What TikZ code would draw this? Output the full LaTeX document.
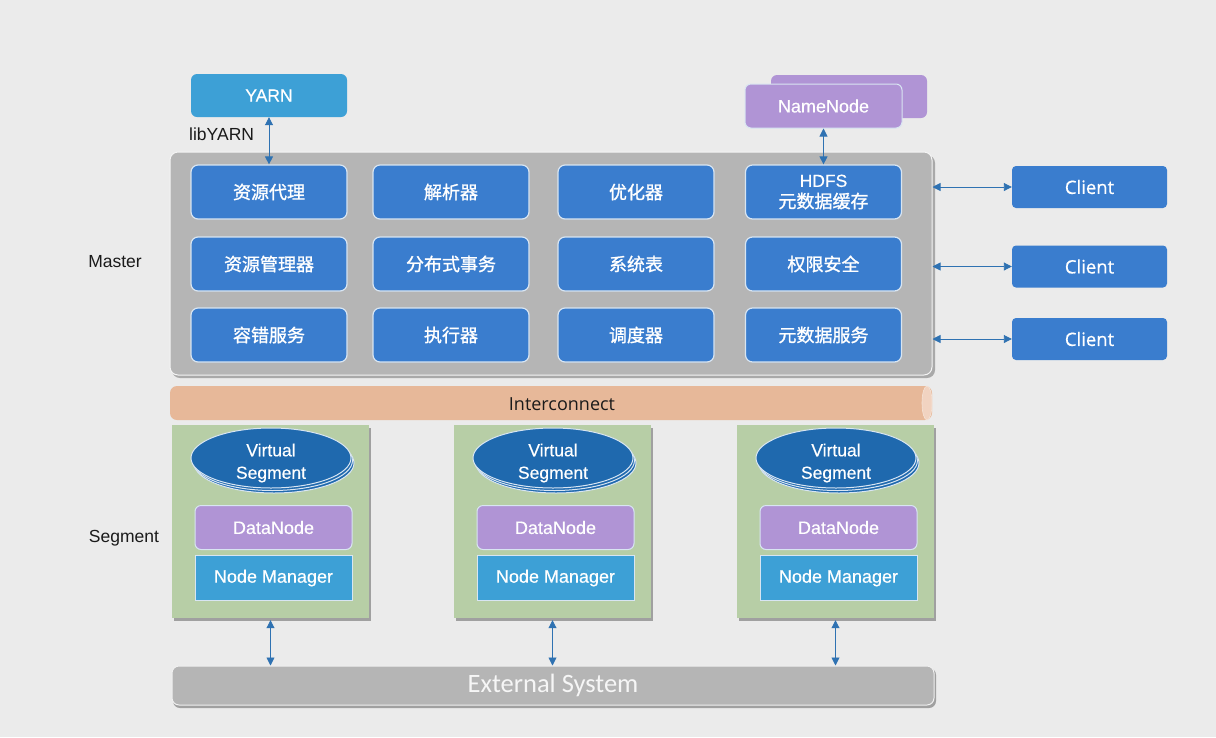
\documentclass[tikz,border=0pt]{standalone}
\usepackage{fontspec}
\setmainfont{Liberation Sans}
\newfontfamily\cjk{Noto Sans CJK SC}[FakeBold=1.2]
\newfontfamily\arialw{Liberation Sans}[FakeBold=0.4]
\newfontfamily\opensans{Open Sans}
\newfontfamily\opensansw{Open Sans}[FakeBold=0.6]
\newfontfamily\carlito{Carlito}
\usetikzlibrary{arrows.meta,shapes.geometric}
\definecolor{bg}{HTML}{EBEBEB}
\definecolor{mgray}{HTML}{B5B5B5}
\definecolor{bblue}{HTML}{3A7DCE}
\definecolor{lblue}{HTML}{3DA0D6}
\definecolor{purp}{HTML}{B094D5}
\definecolor{sgreen}{HTML}{B7CEA6}
\definecolor{salmon}{HTML}{E7B899}
\definecolor{salmonl}{HTML}{F1D3C1}
\definecolor{arrowc}{HTML}{2F72B2}
\definecolor{vsblue}{HTML}{1F69AE}
\definecolor{edgec}{HTML}{D8E5F2}
\definecolor{txt}{HTML}{1A1A1A}
\definecolor{shad}{HTML}{8E8E8E}
\tikzset{
  bluebox/.style={draw=edgec, line width=1.2pt, fill=bblue, rounded corners=7pt,
    minimum width=156pt, minimum height=54pt, text=white, inner sep=0pt,
    font=\cjk\fontsize{18}{22}\selectfont, align=center},
  clientbox/.style={fill=bblue, rounded corners=4pt, minimum width=155pt,
    minimum height=42pt, text=white, inner sep=0pt, font=\opensansw\fontsize{18.5}{22}\selectfont},
  purpbox/.style={draw=edgec, line width=1pt, fill=purp, rounded corners=6pt,
    minimum width=157pt, minimum height=44pt, text=white, inner sep=0pt,
    font=\arialw\fontsize{18}{21}\selectfont},
  nmbox/.style={draw=edgec, line width=1pt, fill=lblue, minimum width=157pt,
    minimum height=45pt, text=white, inner sep=0pt, font=\arialw\fontsize{18}{21}\selectfont},
  yarnbox/.style={fill=lblue, rounded corners=6pt, minimum width=156pt,
    minimum height=43pt, text=white, inner sep=0pt, font=\arialw\fontsize{17.5}{21}\selectfont},
  segbox/.style={fill=sgreen, minimum width=197pt, minimum height=193pt, inner sep=0pt},
  label/.style={text=txt, font=\fontsize{17.5}{21}\selectfont, inner sep=0pt},
  arr/.style={{Triangle[length=8pt,width=8pt]}-{Triangle[length=8pt,width=8pt]},
    draw=arrowc, line width=0.9pt},
}
\begin{document}
\begin{tikzpicture}[x=1pt,y=-1pt]
\fill[bg] (0,0) rectangle (1216,737);
\useasboundingbox (0,0) rectangle (1216,737);

% ---------- Master ----------
\fill[shad, opacity=0.7, rounded corners=8pt] (172,155) rectangle (935,378);
\node[fill=mgray, draw=white!85!mgray, line width=1pt, rounded corners=8pt,
  minimum width=762pt, minimum height=223pt, inner sep=0pt] (master) at (551,263.5) {};

\node[bluebox] (r11) at (269,192) {资源代理};
\node[bluebox] (r12) at (451,192) {解析器};
\node[bluebox] (r13) at (636,192) {优化器};
\node[bluebox] (r14) at (823.5,192) {{\arialw\fontsize{17.5}{22}\selectfont HDFS}\\[-1pt]元数据缓存};
\node[bluebox] (r21) at (269,264) {资源管理器};
\node[bluebox] (r22) at (451,264) {分布式事务};
\node[bluebox] (r23) at (636,264) {系统表};
\node[bluebox] (r24) at (823.5,264) {权限安全};
\node[bluebox] (r31) at (269,335) {容错服务};
\node[bluebox] (r32) at (451,335) {执行器};
\node[bluebox] (r33) at (636,335) {调度器};
\node[bluebox] (r34) at (823.5,335) {元数据服务};

\node[label] (mlabel) at (115,262) {Master};

% ---------- YARN ----------
\node[yarnbox] (yarn) at (269,95.5) {YARN};
\node[label, anchor=west] (libyarn) at (189,134) {libYARN};
\draw[arr] (yarn.south) -- (r11.north);

% ---------- NameNode ----------
\node[fill=purp, rounded corners=6pt, minimum width=156pt, minimum height=43pt] (nnback) at (849,96.5) {};
\node[purpbox] (nn) at (823.5,106) {NameNode};
\draw[arr] (nn.south) -- (r14.north);

% ---------- Clients ----------
\node[clientbox] (c1) at (1089.5,187) {Client};
\node[clientbox] (c2) at (1089.5,266.5) {Client};
\node[clientbox] (c3) at (1089.5,339) {Client};
\draw[arr] (master.east |- c1) -- (c1.west);
\draw[arr] (master.east |- c2) -- (c2.west);
\draw[arr] (master.east |- c3) -- (c3.west);

% ---------- Interconnect ----------
\fill[salmon, rounded corners=7pt] (170,386) rectangle (932,420);
\filldraw[fill=salmonl, draw=white!60!salmon, line width=0.6pt] (927,403) ellipse [x radius=5, y radius=17];
\node[text=txt, font=\opensans\fontsize{18}{21}\selectfont, inner sep=0pt] (ic) at (562,404) {Interconnect};

% ---------- Segments ----------
\foreach \i/\cx/\ix in {1/270.5/273.5, 2/552.5/555.5, 3/835.5/838.5}{
  \fill[shad, opacity=0.8] (\cx-98.5+1.5,425+2.5) rectangle (\cx+98.5+1.5,618+2.5);
  \node[segbox] (s\i) at (\cx,521.5) {};
  \foreach \d in {5,2.5}{
    \filldraw[fill=vsblue, draw=edgec, line width=1pt] (\ix-2.5+\d*0.6,458+\d) ellipse [x radius=80, y radius=30];
  }
  \node[ellipse, fill=vsblue, draw=edgec, line width=1pt, minimum width=160pt, minimum height=60pt,
    inner sep=0pt] (vs\i) at (\ix-2.5,458) {};
  \node[text=white, align=center, inner sep=0pt, font=\arialw\fontsize{17.5}{22.5}\selectfont]
    (vt\i) at ([yshift=-5pt]vs\i.center) {Virtual\\Segment};
  \node[purpbox] (dn\i) at (\ix,527.5) {DataNode};
  \node[nmbox] (nm\i) at (\ix,578) {Node Manager};
}
\node[label] (slabel) at (124,538) {Segment};

% ---------- External System ----------
\fill[shad, opacity=0.8, rounded corners=7pt] (173,668) rectangle (936,708);
\node[fill=mgray, draw=white!80!mgray, line width=1pt, rounded corners=7pt,
  minimum width=762pt, minimum height=39pt, inner sep=0pt, text=white!88!mgray,
  font=\carlito\fontsize{26.5}{30}\selectfont] (ext) at (553,685.5) {External System};

\foreach \i in {1,2,3}{
  \draw[arr] ([yshift=-2pt]s\i.south) -- (s\i.south |- ext.north);
}
\end{tikzpicture}
\end{document}
